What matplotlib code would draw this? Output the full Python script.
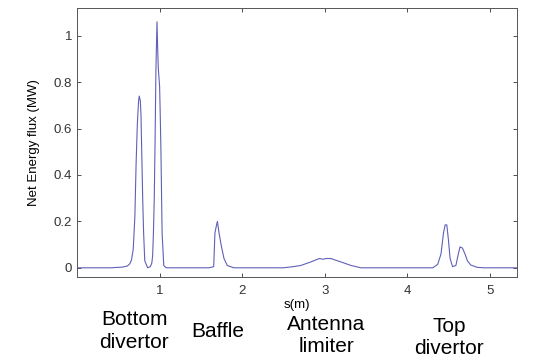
import matplotlib.pyplot as plt
from matplotlib.transforms import blended_transform_factory

# Net energy flux along the wall
s = [0.0, 0.41, 0.45, 0.55, 0.61, 0.64, 0.66, 0.68, 0.70, 0.715, 0.73, 0.745, 0.753,
     0.766, 0.774, 0.786, 0.796, 0.806, 0.82, 0.855, 0.887, 0.905, 0.915, 0.925,
     0.935, 0.945, 0.955, 0.968, 0.976, 0.984, 1.0, 1.008, 1.016, 1.03, 1.05, 1.08,
     1.60, 1.655, 1.66, 1.67, 1.687, 1.70, 1.72, 1.75, 1.78, 1.82, 1.9,
     2.50, 2.62, 2.71, 2.83, 2.935, 2.98, 3.016, 3.077, 3.14, 3.2, 3.32, 3.44,
     4.31, 4.37, 4.41, 4.44, 4.46, 4.48, 4.50, 4.52, 4.55, 4.59, 4.62, 4.64,
     4.67, 4.70, 4.73, 4.77, 4.85, 4.93, 5.33]
flux = [0.0, 0.0, 0.001, 0.003, 0.008, 0.018, 0.035, 0.08, 0.22, 0.45, 0.62, 0.72, 0.74,
        0.72, 0.66, 0.45, 0.28, 0.15, 0.03, 0.0, 0.005, 0.02, 0.05, 0.15,
        0.3, 0.55, 0.85, 1.06, 0.95, 0.86, 0.78, 0.65, 0.5, 0.15, 0.01, 0.0,
        0.0, 0.005, 0.05, 0.15, 0.18, 0.2, 0.15, 0.09, 0.04, 0.01, 0.0,
        0.0, 0.005, 0.01, 0.025, 0.04, 0.037, 0.04, 0.04, 0.032, 0.025, 0.01, 0.0,
        0.0, 0.015, 0.06, 0.15, 0.185, 0.185, 0.12, 0.04, 0.005, 0.01, 0.06, 0.09,
        0.085, 0.06, 0.03, 0.012, 0.002, 0.0, 0.0]

regions = ['Bottom\ndivertor', 'Baffle', 'Antenna\nlimiter', 'Top\ndivertor']
region_s = [0.69, 1.71, 3.02, 4.51]

plt.rcParams['font.family'] = 'Liberation Sans'

fig = plt.figure(figsize=(5.43, 3.58), dpi=100)
ax = fig.add_axes([0.142, 0.226, 0.81, 0.752])

ax.plot(s, flux, color='#6060b8', linewidth=0.8)

ax.set_xlim(0, 5.33)
ax.set_ylim(-0.04, 1.12)
ax.set_xticks([1, 2, 3, 4, 5])
ax.set_yticks([0, 0.2, 0.4, 0.6, 0.8, 1])
ax.set_yticklabels(['0', '0.2', '0.4', '0.6', '0.8', '1'])
ax.tick_params(direction='in', top=True, right=True, length=3, width=0.6,
               labelsize=9.5, colors='#333333')
ax.tick_params(axis='x', pad=6)
for sp in ax.spines.values():
    sp.set_linewidth(0.7)
    sp.set_color('#555555')

ax.set_xlabel('s(m)', fontsize=9.5, labelpad=1)
ax.set_ylabel('Net Energy flux (MW)', fontsize=9.5, labelpad=10)

trans = blended_transform_factory(ax.transData, ax.transAxes)
tops = [-0.124, -0.168, -0.139, -0.147]
for name, x, y in zip(regions, region_s, tops):
    ax.text(x, y, name, transform=trans, ha='center', va='top',
            fontsize=15, linespacing=1.25)

fig.savefig('out.png', dpi=100)
